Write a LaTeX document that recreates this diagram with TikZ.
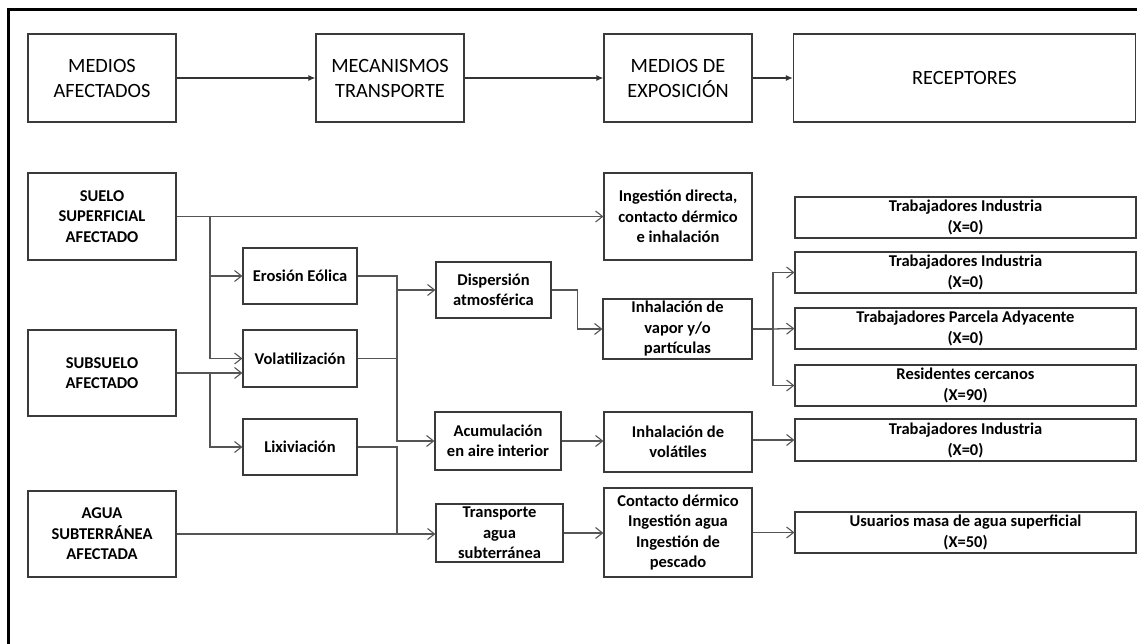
\documentclass[tikz,border=0pt]{standalone}
\usepackage{fontspec}
\setmainfont{Carlito}
\usetikzlibrary{arrows.meta}
\definecolor{boxgray}{HTML}{3A3A3A}
\definecolor{linegray}{HTML}{555555}
\begin{document}
\begin{tikzpicture}[x=1pt,y=-1pt,
  wh/.style 2 args={minimum width=#1pt,minimum height=#2pt},
  box/.style={draw=boxgray, line width=1.2pt, inner sep=0pt, align=center, text=black},
  head/.style={box, font=\fontsize{20.3}{25}\selectfont},
  bbox/.style={box, font=\bfseries\fontsize{16.5}{20.5}\selectfont},
  rbox/.style={box, font=\bfseries\fontsize{16.5}{21}\selectfont},
  line/.style={draw=linegray, line width=1.3pt},
  conn/.style={line, -{Straight Barb[length=7pt,width=11pt,line width=1.1pt]}},
  flow/.style={draw=black!80, line width=1.3pt, -{Latex[length=7pt,width=6pt]}}
]
\useasboundingbox (0,0) rectangle (1137,644);
% outer frame
\draw[line width=2.6pt, black] (8.5,646) -- (8.5,9.5) -- (1140,9.5);

% header row
\node[head, wh={148}{88}] (ma) at (102,78) {MEDIOS\\AFECTADOS};
\node[head, wh={148}{88}] (mt) at (390,78) {MECANISMOS\\TRANSPORTE};
\node[head, wh={148}{88}] (me) at (678,78) {MEDIOS DE\\EXPOSICIÓN};
\node[head, wh={342}{88}] (rc) at (964.5,78) {RECEPTORES};
\draw[flow] (ma.east) -- (mt.west);
\draw[flow] (mt.east) -- (me.west);
\draw[flow] (me.east) -- (rc.west);

% affected media
\node[bbox, wh={148}{87}] (suelo) at (102,216.5) {SUELO\\SUPERFICIAL\\AFECTADO};
\node[bbox, wh={148}{86}] (subs) at (102,373) {SUBSUELO\\AFECTADO};
\node[bbox, wh={148}{86}] (agua) at (102,534) {AGUA\\SUBTERRÁNEA\\AFECTADA};

% release mechanisms
\node[bbox, wh={114}{56}] (eros) at (300,276) {Erosión Eólica};
\node[bbox, wh={114}{57}] (vola) at (300,358.5) {Volatilización};
\node[bbox, wh={114}{56}] (lixi) at (300,447) {Lixiviación};

% transport
\node[bbox, wh={115}{56}] (disp) at (493.5,290) {Dispersión\\atmosférica};
\node[bbox, wh={126}{58}] (acum) at (498,441) {Acumulación\\en aire interior};
\node[bbox, wh={127}{58}] (tran) at (499.5,533) {Transporte\\agua\\subterránea};

% exposure routes
\node[bbox, wh={148}{87}] (ingd) at (678,216.5) {Ingestión directa,\\contacto dérmico\\e inhalación};
\node[bbox, wh={149}{60}] (ivap) at (677.5,329) {Inhalación de\\vapor y/o\\partículas};
\node[bbox, wh={148}{60}] (ivol) at (678,442) {Inhalación de\\volátiles};
\node[bbox, wh={148}{89}] (cder) at (678,532.5) {Contacto dérmico\\Ingestión agua\\Ingestión de\\pescado};

% receptors
\node[rbox, wh={341}{41}] (r1) at (965.5,217.5) {Trabajadores Industria\\(X=0)};
\node[rbox, wh={341}{41}] (r2) at (965.5,272.5) {Trabajadores Industria\\(X=0)};
\node[rbox, wh={341}{41}] (r3) at (965.5,328.5) {Trabajadores Parcela Adyacente\\(X=0)};
\node[rbox, wh={341}{41}] (r4) at (965.5,385.5) {Residentes cercanos\\(X=90)};
\node[rbox, wh={341}{42}] (r5) at (965.5,440) {Trabajadores Industria\\(X=0)};
\node[rbox, wh={341}{41}] (r6) at (965.5,532.5) {Usuarios masa de agua superficial\\(X=50)};

% junction points
\coordinate (jl) at (210,216.5);
\coordinate (jm) at (397,0);
\coordinate (jr) at (773,329);

% media -> mechanisms
\draw[conn] (suelo.east) -- (ingd.west);
\draw[conn] (jl) |- (eros.west);
\draw[conn] (jl) |- (vola.west);
\draw[conn] (subs.east) -- (vola.west |- subs.east);
\draw[conn] (jl |- subs.east) |- (lixi.west);

% mechanisms -> transport
\draw[conn] (eros.east) -- (eros.east -| jm) |- (acum.west);
\draw[line] (vola.east) -- (vola.east -| jm);
\draw[conn] (jm |- disp.west) -- (disp.west);
\draw[line] (lixi.east) -| (jm |- agua.east);
\draw[conn] (agua.east) -- (agua.east -| tran.west);

% transport -> exposure
\draw[conn] (disp.east) -- ++(26,0) |- (ivap.west);
\draw[conn] (acum.east) -- (acum.east -| ivol.west);
\draw[conn] (tran.east) -- (tran.east -| cder.west);

% exposure -> receptors
\draw[line, line width=2pt] (ivap.east) -- (jr);
\draw[conn] (jr) -- (r3.west);
\draw[conn] (jr) |- (r2.west);
\draw[conn] (jr) |- (r4.west);
\draw[conn] (r5.west -| ivol.east) -- (r5.west);
\draw[conn] (cder.east) -- (r6.west);
\end{tikzpicture}
\end{document}
